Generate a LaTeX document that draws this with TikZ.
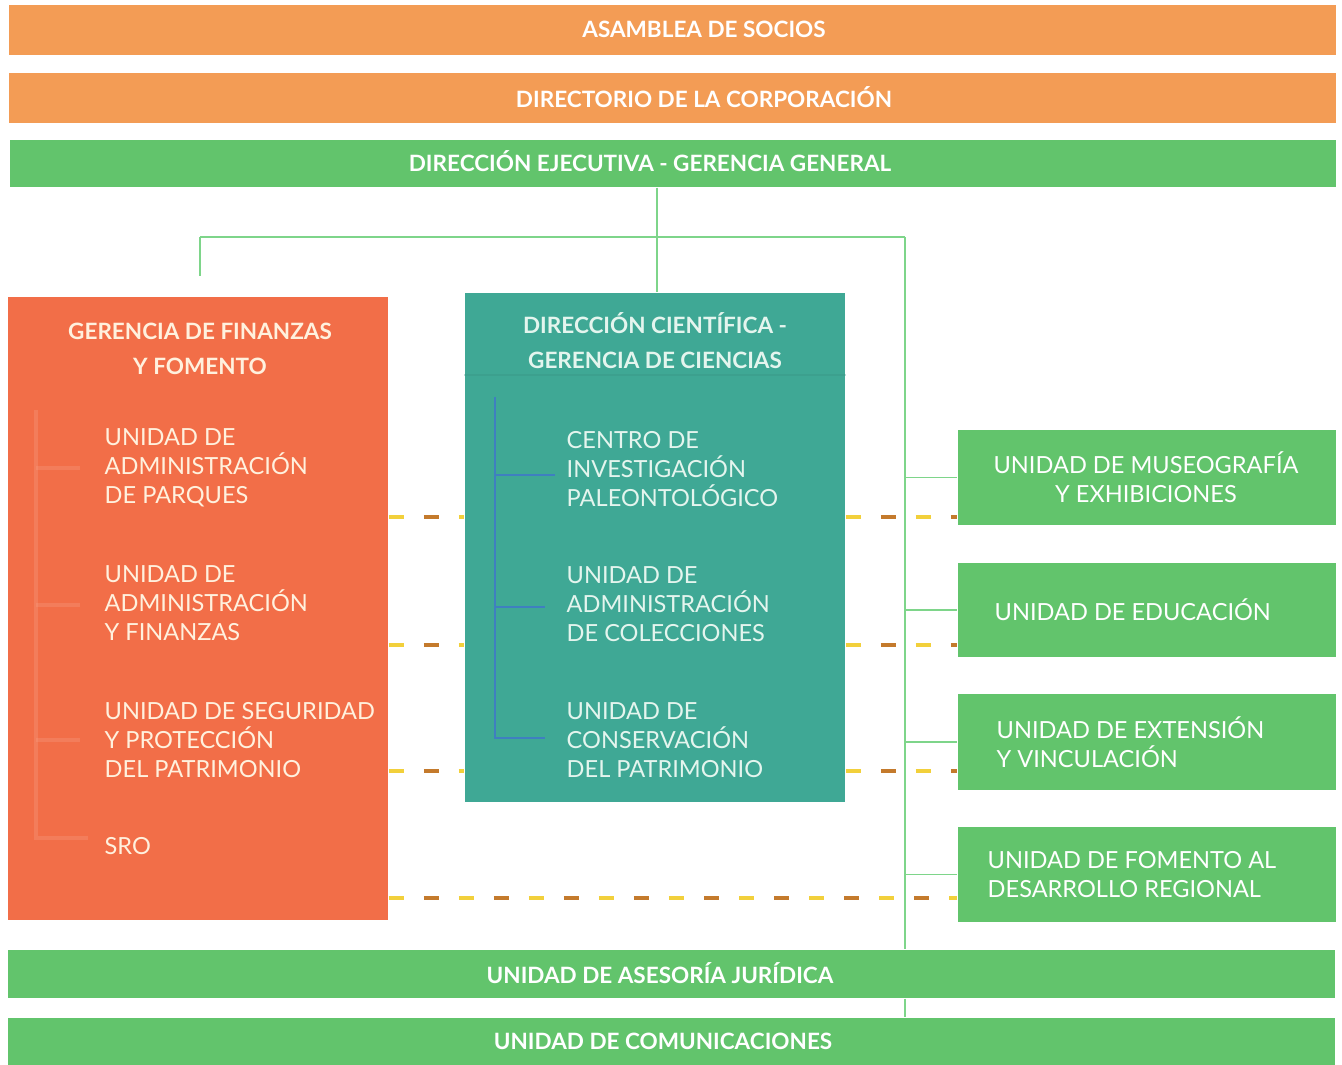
\documentclass[tikz,border=0pt]{standalone}
\usepackage{fontspec}
\setmainfont{Lato}
\usepackage{xcolor}
\usetikzlibrary{positioning}
\definecolor{barorange}{HTML}{F39C55}
\definecolor{coral}{HTML}{F26E48}
\definecolor{tealbox}{HTML}{3FA895}
\definecolor{greenbox}{HTML}{62C46C}
\definecolor{linegreen}{HTML}{7ED58A}
\definecolor{lineblue}{HTML}{3F7FC0}
\definecolor{dashyel}{HTML}{F2D03B}
\definecolor{dashbrn}{HTML}{C47A2C}
\definecolor{cream}{HTML}{FFF1DE}
\definecolor{mint}{HTML}{E4F5EE}
\tikzset{
  bar/.style={minimum width=13.26cm, inner sep=0pt},
  bartxt/.style={text=white, font=\bfseries\fontsize{6.4}{7}\selectfont},
  caja/.style={minimum width=3.8cm, inner sep=0pt},
  titulo/.style={align=center, font=\bfseries\fontsize{6.4}{10}\selectfont},
  item/.style={anchor=west, align=left, inner sep=0pt, font=\fontsize{6.7}{8.25}\selectfont},
  conn/.style={draw=linegreen, line width=0.5pt},
  dashA/.style={draw=dashyel, line width=0.9pt, dash pattern=on 0.15cm off 0.55cm},
  dashB/.style={draw=dashbrn, line width=0.9pt, dash pattern=on 0.15cm off 0.55cm, dash phase=0.35cm}
}
\begin{document}
\begin{tikzpicture}[x=0.01cm, y=-0.01cm]
\useasboundingbox (0,0) rectangle (1342,1065);
\fill[white] (0,0) rectangle (1342,1065);
%
\node[bar, fill=barorange, minimum height=0.5cm] (asamblea) at (672.5, 30) {};
\node[bartxt] (asambleatxt) at (704, 29) {ASAMBLEA DE SOCIOS};
\node[bar, fill=barorange, minimum height=0.5cm] (directorio) at (672.5, 98) {};
\node[bartxt] (directoriotxt) at (704, 97) {DIRECTORIO DE LA CORPORACIÓN};
\node[bar, fill=greenbox, minimum height=0.47cm] (direccion) at (673, 163.5) {};
\node[bartxt] (direcciontxt) at (650, 161) {DIRECCIÓN EJECUTIVA - GERENCIA GENERAL};
%
\node[caja, fill=coral, minimum height=6.23cm] (finanzas) at (198, 608.5) {};
\node[caja, fill=tealbox, minimum height=5.09cm] (ciencias) at (655, 547.5) {};
\draw[tealbox!85!black, opacity=0.3] (ciencias.west |- 0,375) -- (ciencias.east |- 0,375);
%
\node[caja, fill=greenbox, minimum width=3.78cm, minimum height=0.95cm] (museo) at (1147, 477.5) {};
\node[caja, fill=greenbox, minimum width=3.78cm, minimum height=0.94cm] (educacion) at (1147, 610) {};
\node[caja, fill=greenbox, minimum width=3.78cm, minimum height=0.96cm] (extension) at (1147, 742) {};
\node[caja, fill=greenbox, minimum width=3.78cm, minimum height=0.95cm] (fomento) at (1147, 874.5) {};
%
\node[bar, fill=greenbox, minimum width=13.27cm, minimum height=0.48cm] (asesoria) at (671.5, 974) {};
\node[bartxt] (asesoriatxt) at (660, 973) {UNIDAD DE ASESORÍA JURÍDICA};
\node[bar, fill=greenbox, minimum width=13.27cm, minimum height=0.47cm] (comunic) at (671.5, 1041.5) {};
\node[bartxt] (comunictxt) at (663, 1041) {UNIDAD DE COMUNICACIONES};
%
\coordinate (lft) at (200, 237);
\coordinate (rgt) at (905, 237);
\draw[conn] (direccion.south -| 657,0) -- (ciencias.north -| 657,0);
\draw[conn] (lft) -- (rgt);
\draw[conn, shorten >=0.2cm] (lft) -- (lft |- finanzas.north);
\draw[conn] (rgt) -- (rgt |- asesoria.north);
\draw[conn] (rgt |- asesoria.south) -- (rgt |- comunic.north);
\foreach \n in {museo, educacion, extension, fomento}
  \draw[conn] (rgt |- \n.west) -- (\n.west);
%
\node[titulo, text=cream] (fintit) at (200, 349) {GERENCIA DE FINANZAS\\Y FOMENTO};
\node[item, text=cream] (parques) at (104, 468) {UNIDAD DE\\ADMINISTRACIÓN\\DE PARQUES};
\node[item, text=cream] (adminfin) at (104, 603) {UNIDAD DE\\ADMINISTRACIÓN\\Y FINANZAS};
\node[item, text=cream] (seguridad) at (104, 740) {UNIDAD DE SEGURIDAD\\Y PROTECCIÓN\\DEL PATRIMONIO};
\node[item, text=cream] (sro) at (104, 846) {SRO};
\draw[coral!70!white, line width=1.2pt, opacity=0.35] (36, 410) -- (36, 838) -- (88, 838);
\foreach \y in {468, 605, 740}
  \draw[coral!70!white, line width=1.2pt, opacity=0.35] (36, \y) -- (80, \y);
%
\node[titulo, text=mint] (ciencitit) at (655, 341) {DIRECCIÓN CIENTÍFICA -\\GERENCIA DE CIENCIAS};
\node[item, text=mint] (paleo) at (566, 469) {CENTRO DE\\INVESTIGACIÓN\\PALEONTOLÓGICO};
\node[item, text=mint] (colecciones) at (566, 604) {UNIDAD DE\\ADMINISTRACIÓN\\DE COLECCIONES};
\node[item, text=mint] (conserv) at (566, 740) {UNIDAD DE\\CONSERVACIÓN\\DEL PATRIMONIO};
\draw[lineblue, line width=0.8pt] (495, 397) -- (495, 738) -- (545, 738);
\draw[lineblue, line width=0.8pt] (495, 475) -- (555, 475);
\draw[lineblue, line width=0.8pt] (495, 607) -- (545, 607);
%
\node[item, anchor=center, align=center, text=white] (museotxt) at (1146, 477) {UNIDAD DE MUSEOGRAFÍA\\Y EXHIBICIONES};
\node[item, text=white] (educaciontxt) at (994, 610) {UNIDAD DE EDUCACIÓN};
\node[item, text=white] (extensiontxt) at (996, 742) {UNIDAD DE EXTENSIÓN\\Y VINCULACIÓN};
\node[item, text=white] (fomentotxt) at (987, 875) {UNIDAD DE FOMENTO AL\\DESARROLLO REGIONAL};
%
\coordinate (d1) at (0, 517);
\coordinate (d2) at (0, 645);
\coordinate (d3) at (0, 771);
\coordinate (d4) at (0, 898);
\foreach \d in {d1, d2, d3} {
  \draw[dashA] (finanzas.east |- \d) -- (ciencias.west |- \d);
  \draw[dashB] (finanzas.east |- \d) -- (ciencias.west |- \d);
  \draw[dashA] (ciencias.east |- \d) -- (museo.west |- \d);
  \draw[dashB] (ciencias.east |- \d) -- (museo.west |- \d);
}
\draw[dashA] (finanzas.east |- d4) -- (fomento.west |- d4);
\draw[dashB] (finanzas.east |- d4) -- (fomento.west |- d4);
\end{tikzpicture}
\end{document}
